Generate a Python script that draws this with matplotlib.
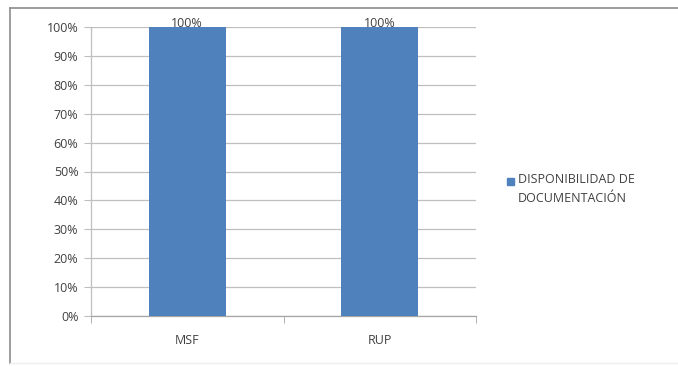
import matplotlib
matplotlib.use("Agg")
import matplotlib.pyplot as plt
from matplotlib.patches import Rectangle
from matplotlib.lines import Line2D
import matplotlib.ticker as mticker

categories = ["MSF", "RUP"]
values = [1.0, 1.0]
series_name = "DISPONIBILIDAD DE\nDOCUMENTACIÓN"
yticks = [0, 0.1, 0.2, 0.3, 0.4, 0.5, 0.6, 0.7, 0.8, 0.9, 1.0]

bar_color = "#4F81BD"
grid_color = "#BFBFBF"
text_color = "#404040"

plt.rcParams["font.family"] = ["Open Sans", "DejaVu Sans"]
fs = 9

fig = plt.figure(figsize=(6.78, 3.66), dpi=100)
fig.patch.set_facecolor("white")

# outer chart frame (top and left edges visible)
fig.add_artist(Line2D([10 / 678, 10 / 678], [1 - 8 / 366, 1 - 363 / 366],
                      transform=fig.transFigure, color="#8C8C8C", lw=1.2))
fig.add_artist(Line2D([10 / 678, 1.0], [1 - 8 / 366, 1 - 8 / 366],
                      transform=fig.transFigure, color="#8C8C8C", lw=1.2))
fig.add_artist(Line2D([10 / 678, 1.0], [1 - 363 / 366, 1 - 363 / 366],
                      transform=fig.transFigure, color="#EEEEEE", lw=1.0))

ax = fig.add_axes([91 / 678, 1 - 316 / 366, (476 - 91) / 678, (316 - 27) / 366])
x = list(range(len(categories)))
bars = ax.bar(x, values, width=0.4, color=bar_color, zorder=3)

ax.set_xlim(-0.5, len(categories) - 0.5)
ax.set_ylim(0, 1.0)
ax.set_yticks(yticks)
ax.yaxis.set_major_formatter(mticker.PercentFormatter(1.0, decimals=0))
ax.grid(axis="y", color=grid_color, lw=0.9, zorder=0)
ax.set_xticks(x)
ax.set_xticklabels(categories)
ax.set_xticks([-0.5, 0.5, 1.5], minor=True)

for s in ["top", "right"]:
    ax.spines[s].set_visible(False)
ax.spines["left"].set_color(grid_color)
ax.spines["bottom"].set_color("#A6A6A6")
ax.spines["left"].set_linewidth(0.9)
ax.spines["bottom"].set_linewidth(0.9)

ax.tick_params(axis="y", length=5, color=grid_color, labelsize=fs,
               labelcolor=text_color, pad=4)
ax.tick_params(axis="x", which="major", length=0, labelsize=fs,
               labelcolor=text_color, pad=13)
ax.tick_params(axis="x", which="minor", length=5, color="#A6A6A6", direction="out")

for xi, v in zip(x, values):
    ax.text(xi, v - 0.012, f"{v:.0%}", ha="center", va="bottom", fontsize=fs,
            color=text_color, zorder=4, clip_on=False)

# legend
fig.add_artist(Rectangle((507 / 678, 1 - 185 / 366), 7 / 678, 7 / 366,
                         transform=fig.transFigure, color=bar_color))
fig.text(518 / 678, 1 - 189 / 366, series_name, ha="left", va="center",
         fontsize=fs, color=text_color, linespacing=1.55)

fig.savefig("out.png", dpi=100, facecolor="white")
